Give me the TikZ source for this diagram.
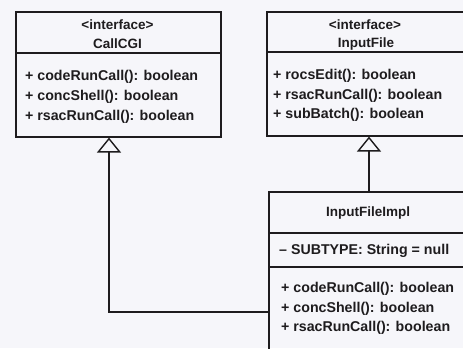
\documentclass[tikz,border=0pt]{standalone}
\usepackage{fontspec}
\setmainfont{Liberation Sans}
\usetikzlibrary{arrows.meta}
\definecolor{bg}{RGB}{246,246,250}
\definecolor{ink}{RGB}{30,28,30}
\tikzset{
  umlbox/.style={draw=ink, line width=1.6pt, inner sep=0pt, anchor=north west},
  divider/.style={draw=ink, line width=1.6pt},
  member/.style={anchor=west, inner sep=0pt, text=ink, font=\bfseries\fontsize{14.2}{16}\selectfont},
  header/.style={anchor=center, inner sep=0pt, text=ink, font=\bfseries\fontsize{13.5}{15}\selectfont},
  inherit/.style={draw=ink, line width=1.4pt, -{Triangle[open, length=15pt, width=24pt]}}
}
\begin{document}
\begin{tikzpicture}[x=1pt,y=-1pt]
\useasboundingbox (0,0) rectangle (463,348);
\fill[bg] (0,0) rectangle (463,348);
\clip (0,0) rectangle (463,348);
% CallCGI
\node[umlbox, minimum width=205pt, minimum height=125pt] (callcgi) at (15,11) {};
\draw[divider] (15,53) -- (220,53);
\node[header] (cg1) at (117.5,25) {\textless interface\textgreater};
\node[header] (cg2) at (117.5,44) {CallCGI};
\node[member] (cgm1) at (25,77) {+ codeRunCall(): boolean};
\node[member] (cgm2) at (25,97) {+ concShell(): boolean};
\node[member] (cgm3) at (25,117) {+ rsacRunCall(): boolean};
% InputFile
\node[umlbox, minimum width=202pt, minimum height=124pt] (inputfile) at (266,11) {};
\draw[divider] (266,52) -- (470,52);
\node[header] (if1) at (365,25) {\textless interface\textgreater};
\node[header] (if2) at (366,44) {InputFile};
\node[member] (ifm1) at (273,76) {+ rocsEdit(): boolean};
\node[member] (ifm2) at (273,96) {+ rsacRunCall(): boolean};
\node[member] (ifm3) at (273,115) {+ subBatch(): boolean};
% InputFileImpl
\node[umlbox, minimum width=200pt, minimum height=170pt] (impl) at (268,191) {};
\draw[divider] (268,233) -- (470,233);
\draw[divider] (268,267) -- (470,267);
\node[header] (im1) at (368,213) {InputFileImpl};
\node[member] (ima) at (279,251) {-- SUBTYPE: String = null};
\node[member] (imm1) at (281,289) {+ codeRunCall(): boolean};
\node[member] (imm2) at (281,309) {+ concShell(): boolean};
\node[member] (imm3) at (281,328) {+ rsacRunCall(): boolean};
% connectors
\coordinate (bend) at (109,312);
\coordinate (up) at (369,0);
\draw[inherit] (impl.west |- bend) -- (bend) -- (bend |- callcgi.south);
\draw[inherit] (impl.north -| up) -- (inputfile.south -| up);
\end{tikzpicture}
\end{document}
